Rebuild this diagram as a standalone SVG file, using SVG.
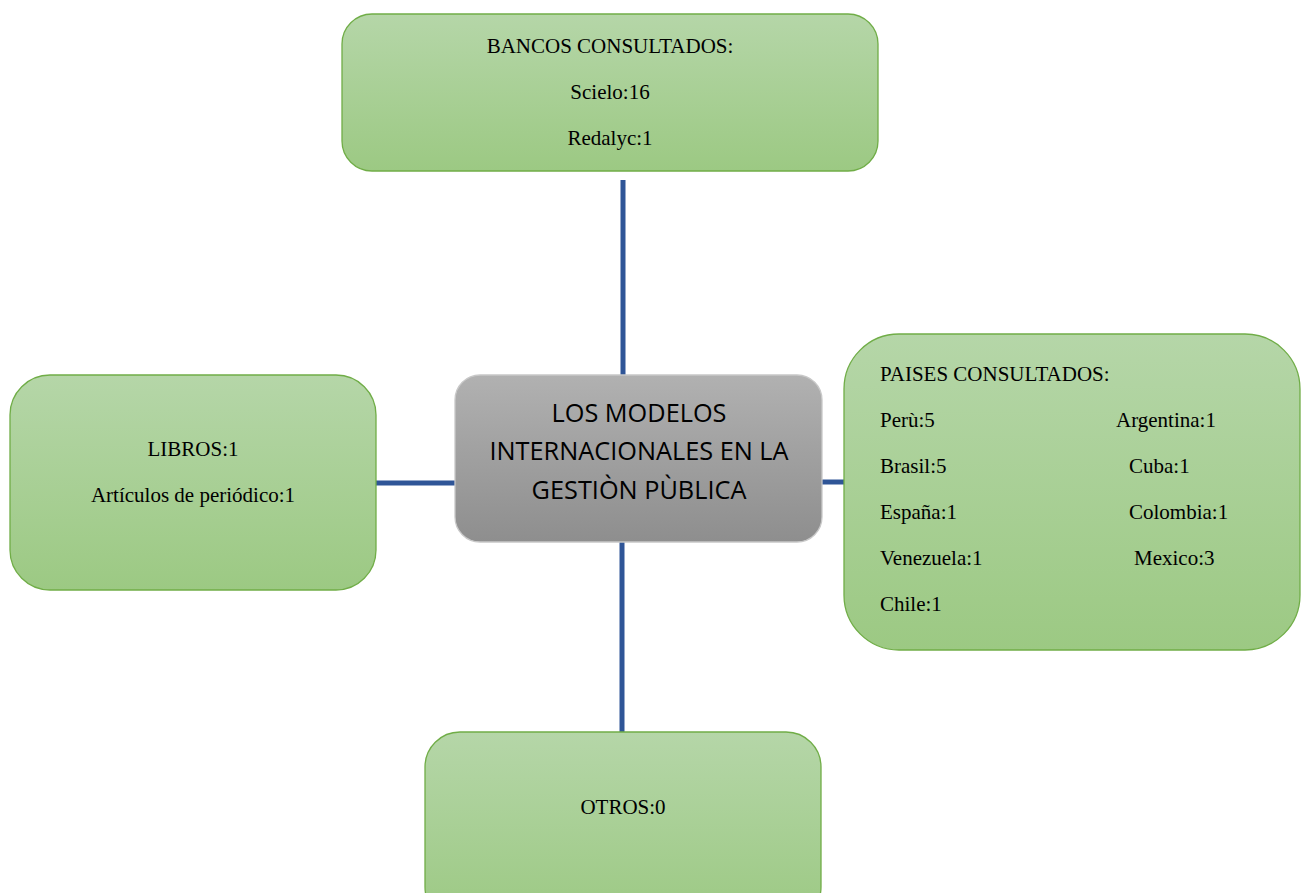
<svg xmlns="http://www.w3.org/2000/svg" width="1303" height="893" viewBox="0 0 1303 893">
<defs>
<linearGradient id="g" x1="0" y1="0" x2="0" y2="1"><stop offset="0" stop-color="#b5d6a8"/><stop offset="1" stop-color="#9cc983"/></linearGradient>
<linearGradient id="gr" x1="0" y1="0" x2="0" y2="1"><stop offset="0" stop-color="#b1b1b1"/><stop offset="1" stop-color="#8e8e8e"/></linearGradient>
<style>
.box{fill:url(#g);stroke:#70ad47;stroke-width:1.3}
.t{font-family:"Liberation Serif",serif;font-size:21px;fill:#000}
.c{text-anchor:middle}
.ct{font-family:"Open Sans","Liberation Sans",sans-serif;font-size:25.3px;fill:#000;text-anchor:middle}
.ln{stroke:#2f5597;stroke-width:5;fill:none}
</style>
</defs>
<rect width="1303" height="893" fill="#fff"/>
<g id="connectors">
<line class="ln" x1="623" y1="180" x2="623" y2="376"/>
<line class="ln" x1="622" y1="541" x2="622" y2="733"/>
<line class="ln" x1="376" y1="483" x2="456" y2="483"/>
<line class="ln" x1="821" y1="482" x2="845" y2="482"/>
</g>
<g id="bancos">
<rect class="box" x="342" y="14" width="536" height="157" rx="30"/>
<text class="t c" x="610" y="53">BANCOS CONSULTADOS:</text>
<text class="t c" x="610" y="99">Scielo:16</text>
<text class="t c" x="610" y="145">Redalyc:1</text>
</g>
<g id="centro">
<rect x="455" y="375" width="367" height="167" rx="25" fill="url(#gr)" stroke="#c8c8c8" stroke-width="1.3"/>
<text class="ct" x="639" y="422">LOS MODELOS</text>
<text class="ct" x="639" y="460">INTERNACIONALES EN LA</text>
<text class="ct" x="639" y="499">GESTIÒN PÙBLICA</text>
</g>
<g id="libros">
<rect class="box" x="10" y="375" width="366" height="215" rx="40"/>
<text class="t c" x="193" y="456">LIBROS:1</text>
<text class="t c" x="193" y="502">Artículos de periódico:1</text>
</g>
<g id="paises">
<rect class="box" x="844" y="334" width="456" height="316" rx="55"/>
<text class="t" x="880" y="381">PAISES CONSULTADOS:</text>
<text class="t" x="880" y="427">Perù:5</text>
<text class="t" x="880" y="473">Brasil:5</text>
<text class="t" x="880" y="519">España:1</text>
<text class="t" x="880" y="565">Venezuela:1</text>
<text class="t" x="880" y="611">Chile:1</text>
<text class="t" x="1116" y="427">Argentina:1</text>
<text class="t" x="1129" y="473">Cuba:1</text>
<text class="t" x="1129" y="519">Colombia:1</text>
<text class="t" x="1134" y="565">Mexico:3</text>
</g>
<g id="otros">
<rect class="box" x="425" y="732" width="396" height="190" rx="35"/>
<text class="t c" x="623" y="814">OTROS:0</text>
</g>
</svg>
